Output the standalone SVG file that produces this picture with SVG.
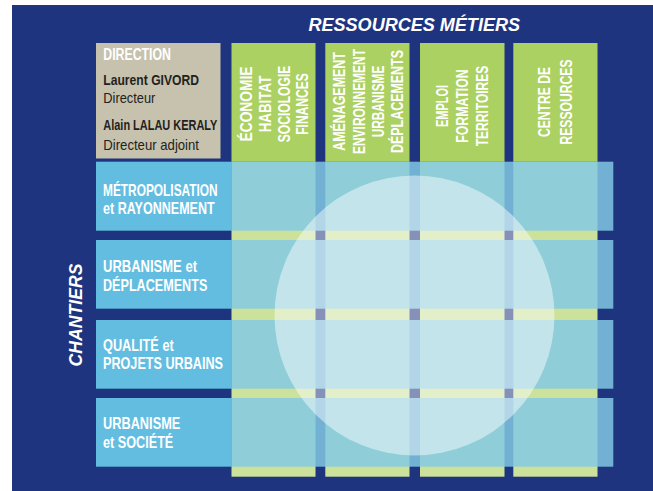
<svg xmlns="http://www.w3.org/2000/svg" width="653" height="491" viewBox="0 0 653 491">
<style>
.hd{font-family:"Liberation Sans",Arial,sans-serif;font-weight:bold;font-style:italic;fill:#ffffff}
.cn{font-family:"Liberation Sans",Arial,sans-serif;font-weight:bold;fill:#ffffff}
.dk{font-family:"Liberation Sans",Arial,sans-serif;fill:#231f20}
.b{font-weight:bold}
.vivid{fill:#acd163}
.pale{fill:#cce29a}
.rowL{fill:#62bde0}
.rowR{fill:#83c9e4;fill-opacity:0.84}
</style>
<rect x="12" y="5" width="641" height="486" fill="#1e347e"/>
<g id="title">
<text class="hd" x="308.5" y="31" font-size="19" textLength="211.5" lengthAdjust="spacingAndGlyphs">RESSOURCES MÉTIERS</text>
</g>
<g id="chantiers">
<text class="hd" transform="translate(81.5,315) rotate(-90)" x="0" y="0" font-size="18" text-anchor="middle" textLength="103" lengthAdjust="spacingAndGlyphs">CHANTIERS</text>
</g>
<g id="direction">
<rect x="96" y="43" width="124.5" height="115.5" fill="#c6c2ae"/>
<text class="cn" x="103.3" y="60" font-size="16" font-weight="normal" textLength="67.7" lengthAdjust="spacingAndGlyphs">DIRECTION</text>
<text class="dk b" x="103.3" y="85" font-size="15.5" textLength="95.7" lengthAdjust="spacingAndGlyphs">Laurent GIVORD</text>
<text class="dk" x="103.3" y="103.3" font-size="14.5" textLength="52" lengthAdjust="spacingAndGlyphs">Directeur</text>
<text class="dk b" x="103.3" y="130" font-size="15.5" textLength="114" lengthAdjust="spacingAndGlyphs">Alain LALAU KERALY</text>
<text class="dk" x="103.3" y="150" font-size="14.5" textLength="95.7" lengthAdjust="spacingAndGlyphs">Directeur adjoint</text>
</g>
<g id="columns">
<g id="col-economie">
<rect class="pale" x="231.5" y="161.7" width="84" height="315"/>
<rect class="vivid" x="231.5" y="43" width="84" height="118.7"/>
</g>
<g id="col-amenagement">
<rect class="pale" x="325.3" y="161.7" width="84.2" height="315"/>
<rect class="vivid" x="325.3" y="43" width="84.2" height="118.7"/>
</g>
<g id="col-emploi">
<rect class="pale" x="420" y="161.7" width="84.5" height="315"/>
<rect class="vivid" x="420" y="43" width="84.5" height="118.7"/>
</g>
<g id="col-centre">
<rect class="pale" x="513.3" y="161.7" width="84.2" height="315"/>
<rect class="vivid" x="513.3" y="43" width="84.2" height="118.7"/>
</g>
</g>
<g id="rows">
<g id="row-metropolisation">
<rect class="rowL" x="96" y="161.7" width="135.5" height="69"/>
<rect class="rowR" x="231.5" y="161.7" width="381.8" height="69"/>
</g>
<g id="row-urbanisme-deplacements">
<rect class="rowL" x="96" y="240" width="135.5" height="68.7"/>
<rect class="rowR" x="231.5" y="240" width="381.8" height="68.7"/>
</g>
<g id="row-qualite">
<rect class="rowL" x="96" y="320" width="135.5" height="68.7"/>
<rect class="rowR" x="231.5" y="320" width="381.8" height="68.7"/>
</g>
<g id="row-societe">
<rect class="rowL" x="96" y="398" width="135.5" height="68.7"/>
<rect class="rowR" x="231.5" y="398" width="381.8" height="68.7"/>
</g>
</g>
<circle id="overlay" cx="414.5" cy="315.5" r="140" fill="#ffffff" fill-opacity="0.46"/>
<g id="column-labels">
<g id="lbl-economie" transform="translate(0,104) rotate(-90)">
<text class="cn" font-size="16.5" text-anchor="middle" x="0" y="251.5" textLength="75" lengthAdjust="spacingAndGlyphs">ÉCONOMIE</text>
<text class="cn" font-size="16.5" text-anchor="middle" x="0" y="271.2" textLength="56.7" lengthAdjust="spacingAndGlyphs">HABITAT</text>
<text class="cn" font-size="16.5" text-anchor="middle" x="0" y="290" textLength="76.7" lengthAdjust="spacingAndGlyphs">SOCIOLOGIE</text>
<text class="cn" font-size="16.5" text-anchor="middle" x="0" y="308.3" textLength="61.7" lengthAdjust="spacingAndGlyphs">FINANCES</text>
</g>
<g id="lbl-amenagement" transform="translate(0,101.5) rotate(-90)">
<text class="cn" font-size="16.5" text-anchor="middle" x="0" y="345" textLength="98.7" lengthAdjust="spacingAndGlyphs">AMÉNAGEMENT</text>
<text class="cn" font-size="16.5" text-anchor="middle" x="0" y="365" textLength="105" lengthAdjust="spacingAndGlyphs">ENVIRONNEMENT</text>
<text class="cn" font-size="16.5" text-anchor="middle" x="0" y="384.3" textLength="71.7" lengthAdjust="spacingAndGlyphs">URBANISME</text>
<text class="cn" font-size="16.5" text-anchor="middle" x="0" y="403.3" textLength="103" lengthAdjust="spacingAndGlyphs">DÉPLACEMENTS</text>
</g>
<g id="lbl-emploi" transform="translate(0,106) rotate(-90)">
<text class="cn" font-size="16.5" text-anchor="middle" x="0" y="447.5" textLength="42" lengthAdjust="spacingAndGlyphs">EMPLOI</text>
<text class="cn" font-size="16.5" text-anchor="middle" x="0" y="468" textLength="73.3" lengthAdjust="spacingAndGlyphs">FORMATION</text>
<text class="cn" font-size="16.5" text-anchor="middle" x="0" y="488.3" textLength="80.7" lengthAdjust="spacingAndGlyphs">TERRITOIRES</text>
</g>
<g id="lbl-centre" transform="translate(0,102) rotate(-90)">
<text class="cn" font-size="16.5" text-anchor="middle" x="0" y="550" textLength="70" lengthAdjust="spacingAndGlyphs">CENTRE DE</text>
<text class="cn" font-size="16.5" text-anchor="middle" x="0" y="571.5" textLength="85" lengthAdjust="spacingAndGlyphs">RESSOURCES</text>
</g>
</g>
<g id="row-labels">
<text class="cn" font-size="16.5" x="103" y="195.7" textLength="114.7" lengthAdjust="spacingAndGlyphs">MÉTROPOLISATION</text>
<text class="cn" font-size="16.5" x="103" y="214" textLength="111.7" lengthAdjust="spacingAndGlyphs">et RAYONNEMENT</text>
<text class="cn" font-size="16.5" x="103" y="272.3" textLength="94" lengthAdjust="spacingAndGlyphs">URBANISME et</text>
<text class="cn" font-size="16.5" x="103" y="291" textLength="104.3" lengthAdjust="spacingAndGlyphs">DÉPLACEMENTS</text>
<text class="cn" font-size="16.5" x="103" y="351" textLength="70.7" lengthAdjust="spacingAndGlyphs">QUALITÉ et</text>
<text class="cn" font-size="16.5" x="103" y="369.3" textLength="120" lengthAdjust="spacingAndGlyphs">PROJETS URBAINS</text>
<text class="cn" font-size="16.5" x="103" y="429.3" textLength="77.3" lengthAdjust="spacingAndGlyphs">URBANISME</text>
<text class="cn" font-size="16.5" x="103" y="447.7" textLength="70.3" lengthAdjust="spacingAndGlyphs">et SOCIÉTÉ</text>
</g>
</svg>
